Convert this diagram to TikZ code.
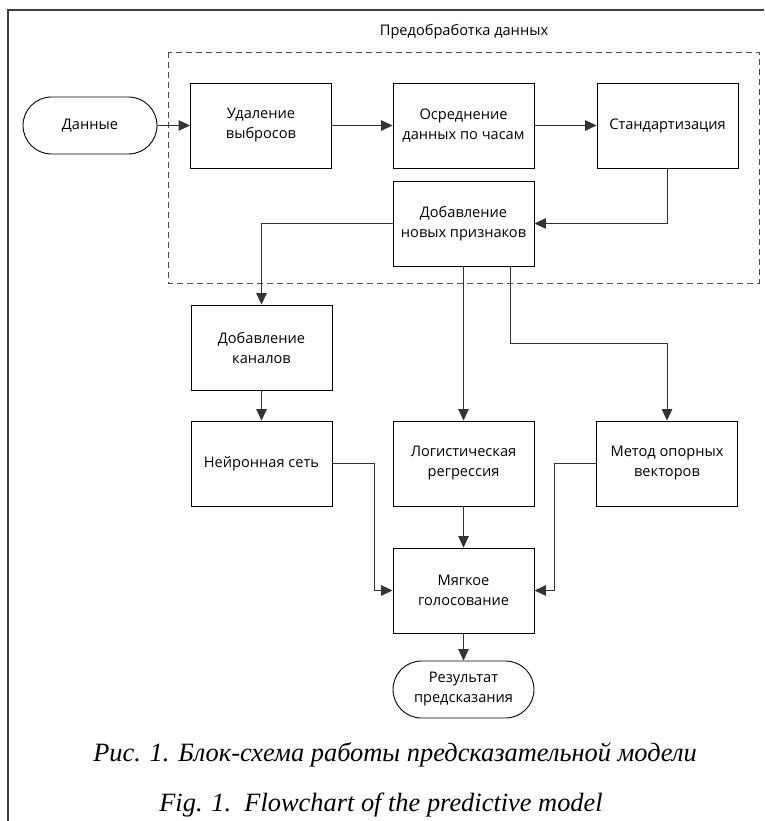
\documentclass[tikz,border=0pt]{standalone}
\usepackage{fontspec}
\setmainfont{Liberation Serif}
\newfontfamily\boxfont{Open Sans}
\usetikzlibrary{arrows.meta,positioning}
\begin{document}
\begin{tikzpicture}
		[x=1pt,y=1pt,
		block/.style={draw,line width=0.9pt,minimum width=141pt,
			minimum height=85pt,align=center,
			font=\boxfont\fontsize{14.6}{20}\selectfont},
		term/.style={block,minimum height=57pt,rounded corners=28.5pt},
		conn/.style={draw=black!80,line width=0.9pt,
			-{Triangle[length=11.5pt,width=10.5pt]}},
		captext/.style={font=\itshape\fontsize{26.4}{30}\selectfont}]
		\useasboundingbox (0,0) rectangle (764,-821);
		% frame
		\draw[black!75,line width=1.5pt] (764,-10) -- (8,-10) -- (8,-821);
		% preprocessing group
		\draw[black!70,line width=0.9pt,dash pattern=on 6pt off 4pt]
			(168,-52) rectangle (759,-283);
		\node[font=\boxfont\fontsize{14.6}{18}\selectfont] (grouplabel)
			at (464,-32) {Предобработка данных};
		% nodes
		\node[term,minimum width=134pt] (data) at (90,-125.5) {Данные};
		\node[block] (outl) at (261,-125.5) {Удаление\\выбросов};
		\node[block] (avg) at (463.5,-125.5) {Осреднение\\данных по часам};
		\node[block] (std) at (667.5,-125.5) {Стандартизация};
		\node[block] (feat) at (463.5,-223.5) {Добавление\\новых признаков};
		\node[block] (chan) at (261.5,-347.5) {Добавление\\каналов};
		\node[block] (nn) at (261.5,-463.5) {Нейронная сеть};
		\node[block] (logreg) at (463.5,-463.5) {Логистическая\\регрессия};
		\node[block] (svm) at (667,-463.5) {Метод опорных\\векторов};
		\node[block] (vote) at (463.5,-590.5) {Мягкое\\голосование};
		\node[term] (result) at (463.5,-689.5) {Результат\\предсказания};
		\node[captext] (capru) at (395,-755) {Рис. 1. Блок-схема работы предсказательной модели};
		\node[captext] (capen) at (381,-805) {Fig. 1.\ \ Flowchart of the predictive model};
		% bends
		\coordinate (svmbend) at (510,-343);
		\coordinate (nnbend) at (374,-463.5);
		\coordinate (svmout) at (554,-463.5);
		% connectors
		\draw[conn] (data) -- (outl);
		\draw[conn] (outl) -- (avg);
		\draw[conn] (avg) -- (std);
		\draw[conn] (std.south) |- (feat.east);
		\draw[conn] (feat.west) -| (chan.north);
		\draw[conn] (feat.south) -- (logreg.north);
		\draw[conn] (feat.south -| svmbend) -- (svmbend) -| (svm.north);
		\draw[conn] (chan) -- (nn);
		\draw[conn] (nn.east) -- (nnbend) |- (vote.west);
		\draw[conn] (svm.west) -- (svmout) |- (vote.east);
		\draw[conn] (logreg) -- (vote);
		\draw[conn] (vote) -- (result);
	\end{tikzpicture}
\end{document}
